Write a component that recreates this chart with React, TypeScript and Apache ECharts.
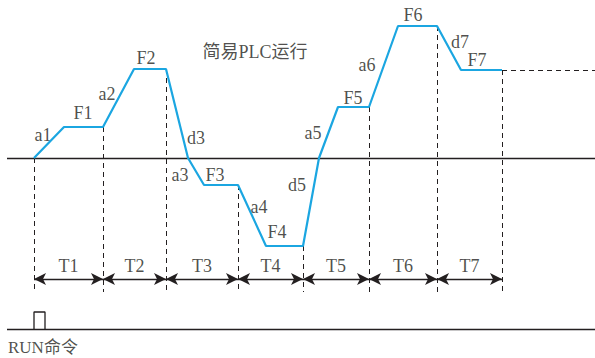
import React, { useEffect, useRef } from "react";
import * as echarts from "echarts";

// Waveform: time (x) and frequency (f, 0 = baseline)
const waveX = [34, 64, 103, 134, 166, 188, 204, 238, 266, 303, 319, 338, 369, 398, 437, 461, 502];
const waveF = [0, 31, 31, 89, 89, 0, -27, -27, -88, -88, 0, 51, 51, 132, 132, 88, 88];

// Segment boundaries and the level each dashed line starts from
const boundX = [34, 103, 166, 238, 303, 369, 437, 502];
const boundTop = [0, 31, 89, -27, -88, 51, 132, 88];
const periodNames = ["T1", "T2", "T3", "T4", "T5", "T6", "T7"];

// Curve labels
const labelNames = ["a1", "F1", "a2", "F2", "d3", "a3", "F3", "a4", "F4", "d5", "a5", "F5", "a6", "F6", "d7", "F7"];
const labelX = [43, 83, 107, 146, 196, 180, 215, 259, 277, 297, 313, 353, 367, 413, 460, 477];
const labelF = [23, 45, 64, 100, 20, -17, -17, -49, -74, -27, 25, 60, 93, 143, 116, 98];

const title = "简易PLC运行";
const runLabel = "RUN命令";

const BLUE = "#1ba6e1";
const INK = "#231f20";
const FONT = "'Liberation Serif', 'Times New Roman', 'Noto Sans CJK SC', serif";

export default function App() {
  const ref = useRef<HTMLDivElement>(null);
  useEffect(() => {
    if (!ref.current) return;
    const chart = echarts.init(ref.current, undefined, { renderer: "svg" });
    const xMin = 0, xMax = 595, fMin = -200, fMax = 158;
    const axisLeft = 7;
    const dashBottom = -134;
    const arrowF = -121;
    const periodLabelF = -108;
    const runLineF = -171;
    const pulseTopF = -154;
    const pulseX = [34, 45];

    const markNone = (data: any[], lineStyle: any, symbol: any = "none", symbolSize: any = 0) => ({
      type: "line",
      data: [],
      silent: true,
      markLine: {
        silent: true,
        animation: false,
        symbol,
        symbolSize,
        label: { show: false },
        emphasis: { disabled: true },
        lineStyle,
        itemStyle: { color: INK },
        data,
      },
    });

    const vertData = boundX.map((x, i) => [{ coord: [x, boundTop[i]] }, { coord: [x, dashBottom] }]);
    const arrowData = periodNames.map((_, i) => [{ coord: [boundX[i], arrowF] }, { coord: [boundX[i + 1], arrowF] }]);

    const labelItems = labelNames.map((n, i) => ({ name: n, value: [labelX[i], labelF[i]] }));
    const periodItems = periodNames.map((n, i) => ({ name: n, value: [(boundX[i] + boundX[i + 1]) / 2, periodLabelF] }));

    chart.setOption({
      animation: false,
      grid: { left: 0, right: 0, top: 0, bottom: 0 },
      xAxis: { type: "value", min: xMin, max: xMax, show: false },
      yAxis: { type: "value", min: fMin, max: fMax, show: false },
      series: [
        markNone(
          [
            [{ coord: [axisLeft, 0] }, { coord: [xMax, 0] }],
            [{ coord: [axisLeft, runLineF] }, { coord: [xMax, runLineF] }],
          ],
          { color: INK, width: 1.3, type: "solid" }
        ),
        markNone(vertData, { color: INK, width: 1, type: [5, 4] }),
        markNone(
          [[{ coord: [boundX[boundX.length - 1], waveF[waveF.length - 1]] }, { coord: [xMax, waveF[waveF.length - 1]] }]],
          { color: INK, width: 1, type: [5, 4] }
        ),
        markNone(arrowData, { color: INK, width: 1.3, type: "solid" }, ["arrow", "arrow"], [9, 12]),
        {
          type: "line",
          silent: true,
          symbol: "none",
          lineStyle: { color: BLUE, width: 2.2 },
          data: waveX.map((x, i) => [x, waveF[i]]),
          z: 5,
        },
        {
          type: "line",
          silent: true,
          symbol: "none",
          lineStyle: { color: INK, width: 1.3 },
          data: [
            [pulseX[0], runLineF],
            [pulseX[0], pulseTopF],
            [pulseX[1], pulseTopF],
            [pulseX[1], runLineF],
          ],
        },
        {
          type: "scatter",
          silent: true,
          symbolSize: 0,
          data: [...labelItems, ...periodItems, { name: title, value: [255, 106] }],
          label: {
            show: true,
            position: "inside",
            formatter: "{b}",
            color: INK,
            fontSize: 18,
            fontFamily: FONT,
          },
        },
        {
          type: "scatter",
          silent: true,
          symbolSize: 0,
          data: [{ name: runLabel, value: [8, -189] }],
          label: {
            show: true,
            position: "inside",
            align: "left",
            formatter: "{b}",
            color: INK,
            fontSize: 17,
            fontFamily: FONT,
          },
        },
      ],
    });
    return () => chart.dispose();
  }, []);
  return (
    <div
      ref={ref}
      style={{ position: "absolute", left: 0, top: 0, width: 595, height: 358, background: "#fff" }}
    />
  );
}
